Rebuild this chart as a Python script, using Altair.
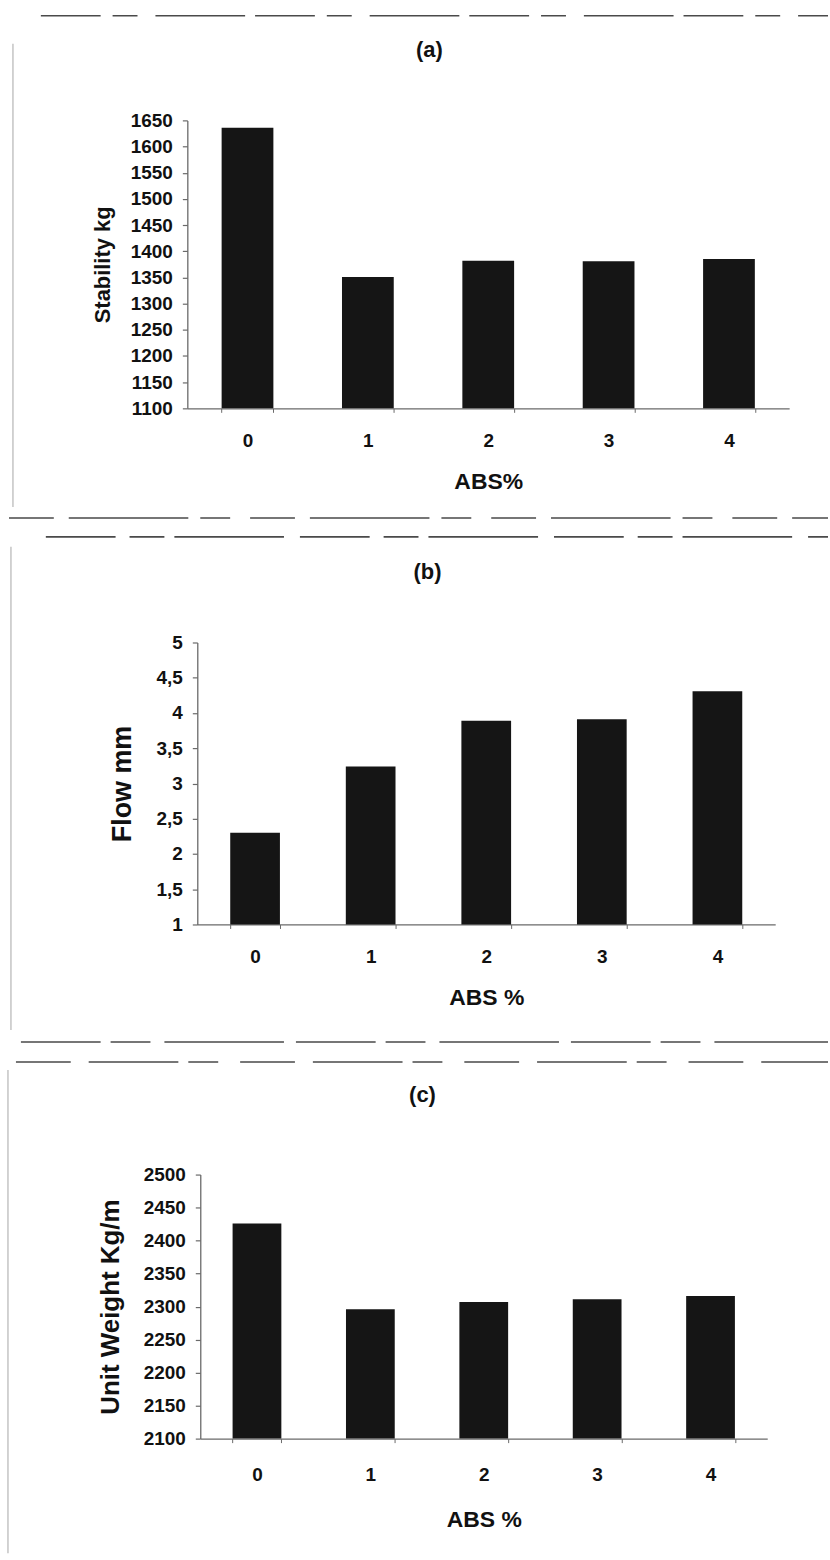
import altair as alt
import pandas as pd

# ---- data ----
abs_pct = ["0", "1", "2", "3", "4"]
stability = [1636, 1351, 1382, 1381, 1385]
flow = [2.30, 3.24, 3.89, 3.91, 4.31]
unit_weight = [2426, 2296, 2307, 2311, 2316]

stab_ticks = [1100, 1150, 1200, 1250, 1300, 1350, 1400, 1450, 1500, 1550, 1600, 1650]
flow_ticks = [1, 1.5, 2, 2.5, 3, 3.5, 4, 4.5, 5]
uw_ticks = [2100, 2150, 2200, 2250, 2300, 2350, 2400, 2450, 2500]

FONT = "Liberation Sans"
BAR = "#151515"
AXIS = "#6a6a6a"
TXT = "#111111"


def panel(values, ticks, ytitle, ytitle_size, ytitle_x, letter, title_dx, title_off,
          x0, x1, h, xlab_pad, xtitle_y, label_expr):
    df = pd.DataFrame({"abs": abs_pct, "v": values})
    lo, hi = ticks[0], ticks[-1]
    yaxis = alt.Axis(
        values=ticks, offset=-x0, grid=False, labelExpr=label_expr,
        domainColor=AXIS, domainWidth=1.3, tickColor=AXIS, tickSize=5, tickWidth=1.2,
        labelPadding=10, labelFont=FONT, labelFontSize=19, labelFontWeight="bold",
        labelColor=TXT, labelFlush=False, labelOverlap=False,
        title=ytitle, titleFont=FONT, titleFontSize=ytitle_size, titleFontWeight="bold",
        titleColor=TXT, titleAngle=270, titleBaseline="middle", titleAlign="center",
        titleX=ytitle_x, titleY=h / 2,
    )
    xaxis = alt.Axis(
        labelAngle=0, grid=False, domainColor=AXIS, domainWidth=1.3,
        tickColor=AXIS, tickSize=4, tickBand="extent",
        labelBaseline="middle", labelPadding=xlab_pad,
        labelFont=FONT, labelFontSize=19, labelFontWeight="bold", labelColor=TXT,
        title="ABS%" if letter == "(a)" else "ABS %",
        titleFont=FONT, titleFontSize=23, titleFontWeight="bold", titleColor=TXT,
        titleBaseline="middle", titleY=xtitle_y,
    )
    return alt.Chart(df).mark_bar(color=BAR).encode(
        x=alt.X("abs:N", axis=xaxis,
                scale=alt.Scale(range=[x0, x1], paddingInner=0.57, paddingOuter=0.285)),
        y=alt.Y("v:Q", axis=yaxis,
                scale=alt.Scale(domain=[lo, hi], nice=False, zero=False)),
        y2=alt.datum(lo),
    ).properties(
        width=x1, height=h,
        title=alt.TitleParams(text=letter, font=FONT, fontSize=22, fontWeight="bold",
                              color=TXT, anchor="middle", frame="group", dx=title_dx,
                              offset=title_off, baseline="middle"),
    )


dummy = pd.DataFrame({"d": [0]})


def hline(y, xa, xb, dash, color="#4a4a4a", w=1.6):
    return alt.Chart(dummy).mark_rule(color=color, strokeWidth=w, strokeDash=dash).encode(
        x=alt.value(xa), x2=alt.value(xb), y=alt.value(y))


def vline(x, ya, yb, color="#b5b5b5", w=1.2):
    return alt.Chart(dummy).mark_rule(color=color, strokeWidth=w).encode(
        x=alt.value(x), y=alt.value(ya), y2=alt.value(yb))


frame = alt.layer(
    hline(12, 40, 830, [60, 12, 25, 18, 90, 10]),
    hline(516, 8, 830, [45, 15, 120, 12, 30, 20]),
    hline(535, 45, 830, [70, 14, 35, 10, 110, 16]),
    hline(1042, 20, 830, [80, 10, 40, 14, 120, 12]),
    hline(1062, 15, 830, [55, 18, 90, 10, 30, 22]),
    vline(12, 40, 505),
    vline(10, 545, 1030),
    vline(7, 1070, 1555),
).properties(width=830, height=117)


def spacer(h):
    return alt.Chart(dummy).mark_rule(opacity=0).encode(
        x=alt.value(0), y=alt.value(0)).properties(width=10, height=h)


INT_LABEL = "format(datum.value, 'd')"
DEC_LABEL = "replace(format(datum.value, '~g'), '.', ',')"

pa = panel(stability, stab_ticks, "Stability kg", 22, -85, "(a)", 34.5, 40,
           187, 791, 289, 28, 73.5, INT_LABEL)
pb = panel(flow, flow_ticks, "Flow mm", 27, -75, "(b)", 39.5, 40,
           197, 777, 283, 28, 73, DEC_LABEL)
pc = panel(unit_weight, uw_ticks, "Unit Weight Kg/m", 26, -90, "(c)", 38.5, 49,
           200, 769, 265, 32, 81.7, INT_LABEL)

chart = alt.vconcat(
    frame, pa, spacer(235), pb, spacer(251), pc, spacer(110),
    spacing=0, bounds="flush",
).configure_view(stroke="transparent").properties(padding=0, background="white")

chart.save("out.html", embed_options={"renderer": "svg", "actions": False})
